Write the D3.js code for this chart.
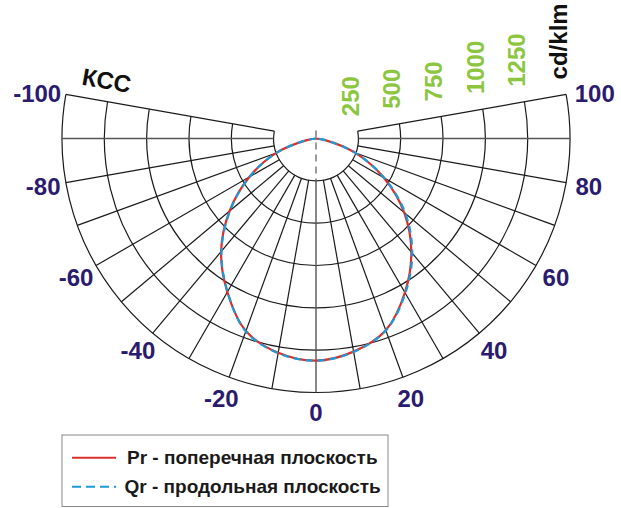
<!DOCTYPE html>
<html>
<head>
<meta charset="utf-8">
<script src="https://cdn.jsdelivr.net/npm/d3@7"></script>
<style>
  html, body { margin: 0; padding: 0; background: #fff; }
  svg { display: block; }
  text { font-family: "Liberation Sans", Arial, sans-serif; }
</style>
</head>
<body>
<svg id="chart" width="621" height="508"></svg>
<script>
// ---- data ----
const angles = [-90, -80, -70, -60, -50, -40, -30, -20, -10, 0, 10, 20, 30, 40, 50, 60, 70, 80, 90];
const prValues = [0, 55, 252, 455, 666, 872, 1047, 1210, 1285, 1312, 1278, 1205, 1050, 876, 680, 461, 245, 55, 0];
const qrValues = [0, 55, 250, 452, 662, 868, 1045, 1212, 1287, 1312, 1280, 1207, 1055, 884, 690, 466, 248, 55, 0];
const ringValues = [250, 500, 750, 1000, 1250, 1500];
const ringLabels = ["250", "500", "750", "1000", "1250", "cd/klm"];
const spokeAngles = d3.range(-100, 101, 10);
const angleLabels = [-100, -80, -60, -40, -20, 0, 20, 40, 60, 80, 100];
const seriesNames = ["Pr - поперечная плоскость", "Qr - продольная плоскость"];
const titleText = "КСС";

// ---- layout ----
const cx = 316, cy = 138.5, R = 254;
const rScale = d3.scaleLinear().domain([0, 1500]).range([0, R]);
const rad = d => d * Math.PI / 180;
const pt = (a, r) => [cx + r * Math.sin(rad(a)), cy + r * Math.cos(rad(a))];
const navy = "#2b1b6f", green = "#8cc63f", red = "#d9302c", blue = "#1b9ad6";

const svg = d3.select("#chart");
const grid = svg.append("g");

// rings (arcs from -100 to 100 through the bottom)
ringValues.forEach(v => {
  const r = rScale(v);
  const p = d3.path();
  const s = pt(-100, r);
  p.moveTo(s[0], s[1]);
  p.arc(cx, cy, r, rad(90 + 100), rad(90 - 100), true);
  grid.append("path").attr("d", p.toString())
    .attr("fill", "none").attr("stroke", "#1a1a1a").attr("stroke-width", 1.2);
});

// spokes
spokeAngles.forEach(a => {
  const p0 = pt(a, rScale(250)), p1 = pt(a, R);
  const special = (a === 0 || Math.abs(a) === 90);
  grid.append("line")
    .attr("x1", p0[0]).attr("y1", p0[1]).attr("x2", p1[0]).attr("y2", p1[1])
    .attr("stroke", special ? "#555" : "#1a1a1a")
    .attr("stroke-width", special ? 1.4 : 1.2);
});

// dashed axis inside the hole
{
  const p0 = pt(0, -8), p1 = pt(0, rScale(250));
  grid.append("line")
    .attr("x1", p0[0]).attr("y1", p0[1]).attr("x2", p1[0]).attr("y2", p1[1])
    .attr("stroke", "#666").attr("stroke-width", 1.3).attr("stroke-dasharray", "7,5");
}

// curves
const line = d3.lineRadial()
  .angle(d => Math.PI - rad(d[0]))
  .radius(d => rScale(d[1]))
  .curve(d3.curveCatmullRom);
const curves = svg.append("g").attr("transform", `translate(${cx},${cy})`);
curves.append("path").attr("d", line(angles.map((a, i) => [a, prValues[i]])))
  .attr("fill", "none").attr("stroke", red).attr("stroke-width", 2.2);
curves.append("path").attr("d", line(angles.map((a, i) => [a, qrValues[i]])))
  .attr("fill", "none").attr("stroke", blue).attr("stroke-width", 2.2)
  .attr("stroke-dasharray", "7,5");

// angle labels
angleLabels.forEach(a => {
  const p = pt(a, 277);
  const edge = Math.abs(a) === 100;
  const dx = edge ? Math.sign(a) * 6 : 0;
  const dy = edge ? 3 : (a === 0 ? -3 : 0);
  svg.append("text").attr("x", p[0] + dx).attr("y", p[1] + dy)
    .attr("text-anchor", "middle").attr("dominant-baseline", "central")
    .attr("font-size", 24).attr("font-weight", "bold").attr("fill", navy)
    .text(a);
});

// ring value labels (rotated)
ringValues.forEach((v, i) => {
  const p = pt(100, rScale(v));
  const x = p[0] - 7.5, y = p[1] - 15;
  svg.append("text")
    .attr("transform", `translate(${x},${y}) rotate(-90)`)
    .attr("text-anchor", "start").attr("dominant-baseline", "central")
    .attr("font-size", 24).attr("font-weight", "bold")
    .attr("fill", i === ringValues.length - 1 ? "#111" : green)
    .text(ringLabels[i]);
});

// title
{
  const p = pt(-100, 212);
  svg.append("text")
    .attr("transform", `translate(${p[0] - 2},${p[1] - 13}) rotate(10)`)
    .attr("text-anchor", "middle")
    .attr("font-size", 24).attr("font-weight", "bold").attr("fill", "#111")
    .text(titleText);
}

// legend
const lg = svg.append("g");
lg.append("rect").attr("x", 62).attr("y", 435).attr("width", 326).attr("height", 71.5)
  .attr("fill", "none").attr("stroke", "#888").attr("stroke-width", 1);
lg.append("line").attr("x1", 72).attr("x2", 116).attr("y1", 457.7).attr("y2", 457.7)
  .attr("stroke", red).attr("stroke-width", 2);
lg.append("line").attr("x1", 72).attr("x2", 116).attr("y1", 486.7).attr("y2", 486.7)
  .attr("stroke", blue).attr("stroke-width", 2).attr("stroke-dasharray", "9,5");
lg.append("text").attr("x", 127).attr("y", 463.5)
  .attr("font-size", 19).attr("font-weight", "bold").attr("fill", "#1a1a1a")
  .text(seriesNames[0]);
lg.append("text").attr("x", 124.5).attr("y", 492.5)
  .attr("font-size", 19).attr("font-weight", "bold").attr("fill", "#1a1a1a")
  .text(seriesNames[1]);
</script>
</body>
</html>
